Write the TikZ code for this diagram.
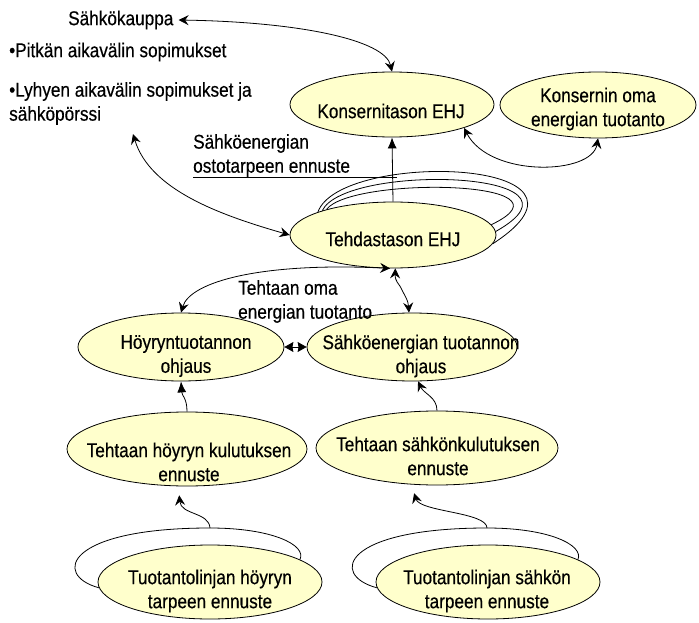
\documentclass[tikz,border=0pt]{standalone}
\usepackage{fontspec}
\setmainfont{Liberation Sans}[FakeStretch=0.86,FakeBold=0.4]
\usetikzlibrary{shapes.geometric,arrows.meta}
\definecolor{bubblefill}{HTML}{FFFFCC}
\pgfdeclarelayer{back}
\pgfsetlayers{back,main}
\begin{document}
\begin{tikzpicture}[x=1pt,y=-1pt,
  font=\fontsize{20}{24}\selectfont,
  bubble/.style={ellipse,draw,fill=bubblefill,line width=0.8pt,inner sep=0pt},
  caption/.style={inner sep=0pt,align=center},
  note/.style={inner sep=0pt,align=left,anchor=west},
  link/.style={line width=0.8pt},
  >={Stealth[length=10pt,width=10pt,inset=3.5pt]},
  solid tip/.style={-{Latex[length=11pt,width=9pt]}},
  pair tip/.style={{Stealth[length=9pt,width=10pt,inset=1pt]}-{Stealth[length=9pt,width=10pt,inset=1pt]}}
]
\useasboundingbox (0,0) rectangle (699,623);

% planning levels
\node[bubble,minimum width=204pt,minimum height=65pt] (kt) at (392,104.5) {};
\node[bubble,minimum width=196pt,minimum height=66pt] (ko) at (598,105) {};
\node[bubble,minimum width=206pt,minimum height=66pt] (td) at (393,235) {};
\node[bubble,minimum width=206pt,minimum height=68pt] (hy) at (181,347) {};
\node[bubble,minimum width=210pt,minimum height=68pt] (sp) at (412,347) {};
\node[bubble,minimum width=240pt,minimum height=74pt] (ht) at (187,449) {};
\node[bubble,minimum width=242pt,minimum height=74pt] (st) at (437,448) {};
\node[bubble,minimum width=224pt,minimum height=74pt] (tl) at (210,582) {};
\node[bubble,minimum width=224pt,minimum height=74pt] (ts) at (488,582) {};

% bubble texts
\node[caption] (kt-t) at (391,111) {Konsernitason EHJ};
\node[caption] (ko-t) at (598,109) {Konsernin oma\\energian tuotanto};
\node[caption] (td-t) at (393,239) {Tehdastason EHJ};
\node[caption] (hy-t) at (186,356) {Höyryntuotannon\\ohjaus};
\node[caption] (sp-t) at (421,356) {Sähköenergian tuotannon\\ohjaus};
\node[caption] (ht-t) at (189,462) {Tehtaan höyryn kulutuksen\\ennuste};
\node[caption] (st-t) at (438,456) {Tehtaan sähkönkulutuksen\\ennuste};
\node[caption] (tl-t) at (210,591) {Tuotantolinjan höyryn\\tarpeen ennuste};
\node[caption] (ts-t) at (487,591) {Tuotantolinjan sähkön\\tarpeen ennuste};

% free texts
\node[note] (sk) at (68,20) {Sähkökauppa};
\node[note] (pk) at (9,52) {•Pitkän aikavälin sopimukset};
\node[note] (ly) at (9,103.5) {•Lyhyen aikavälin sopimukset ja\\sähköpörssi};
\node[note] (osto) at (193,155.5) {Sähköenergian\\ostotarpeen ennuste};
\node[note] (oma) at (238,301.5) {Tehtaan oma\\energian tuotanto};

\coordinate (mkt) at (133,134);
\coordinate (hloop) at (210,528);
\coordinate (sloop) at (487,528);

% repeating cycles behind the bubbles
\begin{pgfonlayer}{back}
  \draw[link] (td.163) .. controls (340,150) and (625,158) .. (td.-5);
  \draw[link] (td.161) .. controls (345,163) and (605,170) .. (td.2);
  \draw[link] (td.159) .. controls (352,176) and (585,180) .. (td.6);
  \draw[link] (tl.183) .. controls (52,575) and (66,528) .. (hloop)
              .. controls (272,528) and (307,545) .. (tl.14);
  \draw[link] (ts.183) .. controls (329,575) and (343,528) .. (sloop)
              .. controls (549,528) and (584,545) .. (ts.14);
\end{pgfonlayer}

% connectors
\draw[link,<->] ([xshift=5pt]sk.east) .. controls (300,22) and (385,40) .. (kt.north);
\draw[link,<->] (kt.-18) .. controls (490,178) and (592,175) .. (ko.south);
\draw[link,solid tip] (td.north) -- (kt.south);
\draw[link] (osto.south west) -- ([xshift=4pt]osto.south west -| td.north);
\draw[link,<->] (mkt) .. controls (150,190) and (220,215) .. (td.west);
\draw[link,<->] (hy.north) .. controls (190,282) and (260,262) .. (td.-95);
\draw[link,<->] (td.-86) .. controls (395,282) and (399,283) .. (402,290)
                .. controls (406,298) and (408,300) .. (sp.95);
\draw[link,pair tip] (hy.east) -- (sp.west);
\draw[link,solid tip] (ht.north) .. controls (187,398) and (182,396) .. (hy.south);
\draw[link,->] (st.north) .. controls (437,397) and (424,394) .. (sp.-80);
\draw[link,->,shorten >=9pt] (hloop) .. controls (209,512) and (181,515) .. (ht.-103);
\draw[link,->,shorten >=9pt] (sloop) .. controls (487,512) and (420,512) .. (st.-125);
\end{tikzpicture}
\end{document}
